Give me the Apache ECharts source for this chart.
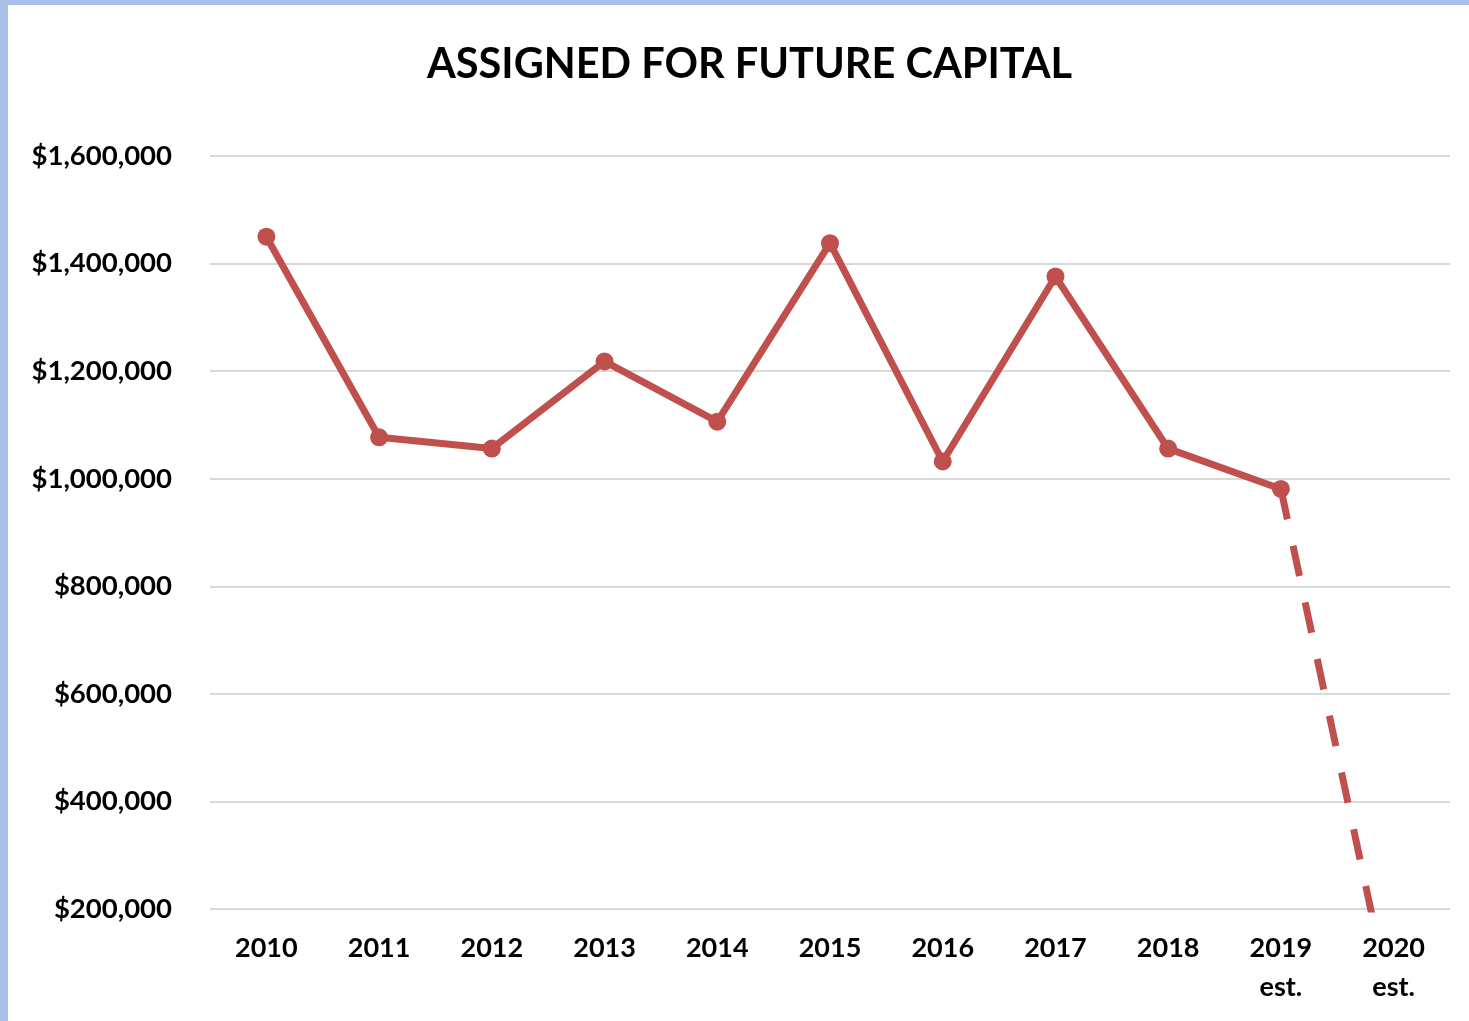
<!DOCTYPE html>
<html>
<head>
<meta charset="utf-8">
<script src="https://cdn.jsdelivr.net/npm/echarts@6/dist/echarts.min.js"></script>
<style>
  html, body { margin: 0; padding: 0; background: #ffffff; }
  #frame { position: absolute; left: 0; top: 0; width: 1469px; height: 1021px; background: #a9c0e8; }
  #chart { position: absolute; left: 8px; top: 5px; width: 1461px; height: 1016px; background: #ffffff; }
</style>
</head>
<body>
<div id="frame"></div>
<div id="chart"></div>
<script>
const titleText = 'ASSIGNED FOR FUTURE CAPITAL';
const categories = ['2010', '2011', '2012', '2013', '2014', '2015', '2016', '2017', '2018', '2019\nest.', '2020\nest.'];
const actualValues = [1450000, 1077000, 1056000, 1218000, 1106000, 1438000, 1032000, 1376000, 1056000, 981000, null];
const estimateValues = [null, null, null, null, null, null, null, null, null, 981000, 0];
const yMin = 200000;
const yMax = 1600000;
const yStep = 200000;

const chart = echarts.init(document.getElementById('chart'));
const fontFamily = 'Lato, "Open Sans", sans-serif';
chart.setOption({
  animation: false,
  backgroundColor: '#ffffff',
  title: {
    text: titleText,
    left: 414,
    top: 34,
    textStyle: { fontFamily: fontFamily, fontWeight: 'bold', fontSize: 41.5, color: '#000000' }
  },
  grid: { left: 202, right: 19, top: 151, bottom: 112 },
  xAxis: {
    type: 'category',
    data: categories,
    boundaryGap: true,
    axisLine: { show: false },
    axisTick: { show: false },
    axisLabel: {
      margin: 20,
      fontFamily: fontFamily,
      fontWeight: 'bold',
      fontSize: 27,
      lineHeight: 39,
      color: '#000000',
      interval: 0
    },
    splitLine: { show: false }
  },
  yAxis: {
    type: 'value',
    min: yMin,
    max: yMax,
    interval: yStep,
    axisLine: { show: false },
    axisTick: { show: false },
    axisLabel: {
      margin: 38,
      fontFamily: fontFamily,
      fontWeight: 'bold',
      fontSize: 27.5,
      color: '#000000',
      formatter: function (v) { return '$' + v.toLocaleString('en-US'); }
    },
    splitLine: { show: true, lineStyle: { color: '#d9d9d9', width: 2 } }
  },
  series: [
    {
      name: 'Actual',
      type: 'line',
      data: actualValues,
      symbol: 'circle',
      symbolSize: 18,
      itemStyle: { color: '#c0504d' },
      lineStyle: { color: '#c0504d', width: 7 },
      z: 3
    },
    {
      name: 'Estimate',
      type: 'line',
      data: estimateValues,
      showSymbol: false,
      clip: true,
      lineStyle: { color: '#c0504d', width: 7, type: [31, 27] },
      z: 2
    }
  ]
});
</script>
</body>
</html>
